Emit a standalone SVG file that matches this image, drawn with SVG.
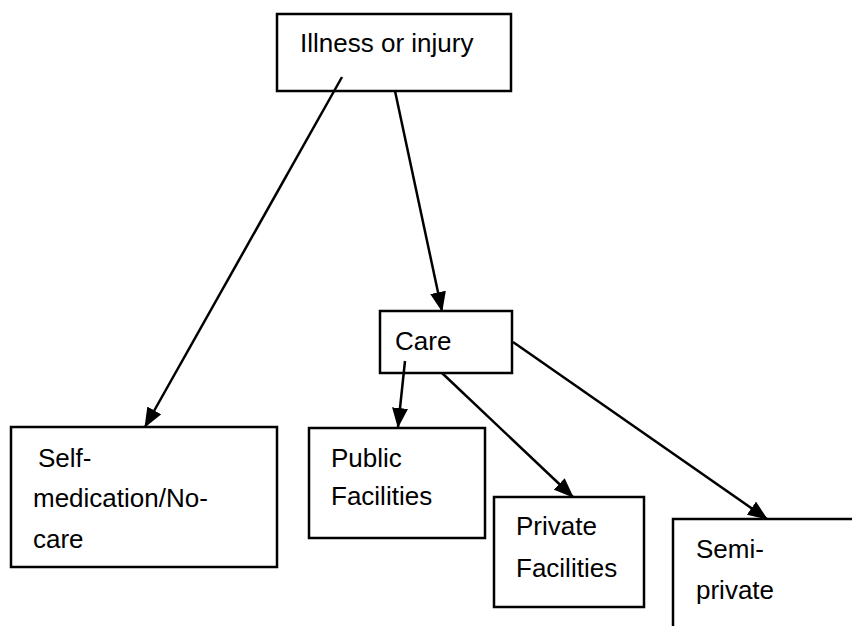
<svg xmlns="http://www.w3.org/2000/svg" width="852" height="626" viewBox="0 0 852 626">
<style>
.box{fill:#fff;stroke:#000;stroke-width:2.5}
.t{font-family:"Liberation Sans",Arial,sans-serif;font-size:26px;fill:#000}
.c{stroke:#000;stroke-width:2.5;fill:none;marker-end:url(#ah)}
</style>
<defs>
<marker id="ah" markerWidth="20" markerHeight="16" refX="19" refY="8" orient="auto" markerUnits="userSpaceOnUse">
<path d="M0,0 L20,8 L0,16 Z" fill="#000"/>
</marker>
</defs>
<rect width="852" height="626" fill="#fff"/>
<g id="illness">
<rect class="box" x="277" y="14" width="234" height="77"/>
<text class="t" x="300" y="52">Illness or injury</text>
</g>
<g id="care">
<rect class="box" x="380" y="311" width="132" height="62"/>
<text class="t" x="395" y="350">Care</text>
</g>
<g id="self">
<rect class="box" x="11" y="427" width="266" height="140"/>
<text class="t" x="38" y="467">Self-</text>
<text class="t" x="33" y="507">medication/No-</text>
<text class="t" x="33" y="548">care</text>
</g>
<g id="public">
<rect class="box" x="309" y="428" width="176" height="110"/>
<text class="t" x="331" y="467">Public</text>
<text class="t" x="331" y="505">Facilities</text>
</g>
<g id="private">
<rect class="box" x="494" y="497" width="150" height="110"/>
<text class="t" x="516" y="535">Private</text>
<text class="t" x="516" y="577">Facilities</text>
</g>
<g id="semi">
<rect class="box" x="673" y="519" width="200" height="130"/>
<text class="t" x="696" y="558">Semi-</text>
<text class="t" x="696" y="599">private</text>
</g>
<g id="connectors">
<line class="c" x1="342" y1="77" x2="145" y2="427"/>
<line class="c" x1="395" y1="91" x2="442" y2="311"/>
<line class="c" x1="405" y1="361" x2="398" y2="427"/>
<line class="c" x1="442" y1="373" x2="573" y2="497"/>
<line class="c" x1="513" y1="342" x2="767" y2="519"/>
</g>
</svg>
